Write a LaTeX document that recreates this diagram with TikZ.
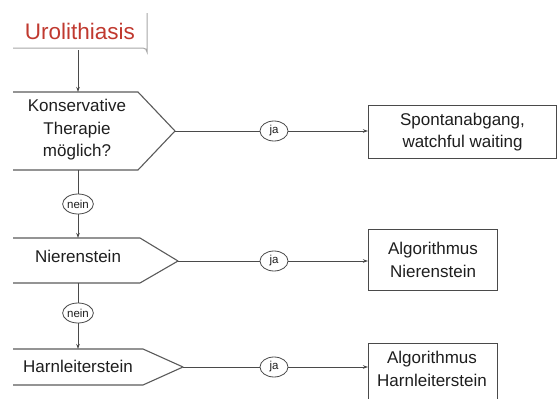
\documentclass[tikz,border=0pt]{standalone}
\usepackage{fontspec}
\setmainfont{Liberation Sans}
\usetikzlibrary{arrows.meta,shapes.geometric}
\definecolor{urored}{HTML}{C0392F}
\definecolor{txt}{HTML}{1E1E1E}
\definecolor{edge}{HTML}{4A4A4A}
\definecolor{hexc}{HTML}{5A5A5A}
\begin{document}
\begin{tikzpicture}[x=1pt,y=-1pt,
  lbl/.style={font=\fontsize{17}{22.5}\selectfont, text=txt, align=center, inner sep=0pt},
  hexline/.style={draw=hexc, line width=1.1pt, line join=round},
  resbox/.style={draw=edge, line width=1pt, fill=white},
  conn/.style={draw=edge, line width=0.9pt},
  arr/.style={conn, -{Stealth[length=5pt,width=3.5pt]}},
  tag/.style={ellipse, draw=edge, line width=0.8pt, fill=white, inner sep=0pt,
    minimum width=28pt, minimum height=20pt, font=\fontsize{11.5}{13}\selectfont, text=txt}
]
\useasboundingbox (0,0) rectangle (558,399);

% title box
\draw[draw=black!35, line width=1pt] (13,48) -- (143,48) arc[start angle=-90,end angle=0,radius=4] -- (147,13);
\node[font=\fontsize{22.5}{26}\selectfont, text=urored, inner sep=0pt] (uro) at (80,31) {Urolithiasis};
\coordinate (urob) at (78,50);

% hexagon 1
\draw[hexline] (13,92) -- (138,92) -- (175,131) -- (138,170) -- (13,170);
\coordinate (h1t) at (78,92);
\coordinate (h1b) at (78,170);
\coordinate (h1r) at (175,131);
\node[lbl] (k) at (77,130) {Konservative\\Therapie\\möglich?};

% hexagon 2
\draw[hexline] (13,238) -- (140,238) -- (178,261) -- (140,283) -- (13,283);
\coordinate (h2t) at (78,238);
\coordinate (h2b) at (78,283);
\coordinate (h2r) at (178,261);
\node[lbl] (n) at (78,256) {Nierenstein};

% hexagon 3
\draw[hexline] (13,349) -- (143,349) -- (183,367) -- (143,385) -- (13,385);
\coordinate (h3t) at (78,349);
\coordinate (h3r) at (183,367);
\node[lbl] (h) at (78,366) {Harnleiterstein};

% result boxes
\node[resbox, lbl, draw, minimum width=188pt, minimum height=53pt, anchor=north west] (r1) at (368,105) {Spontanabgang,\\watchful waiting};
\node[resbox, lbl, draw, minimum width=129pt, minimum height=61pt, anchor=north west, inner sep=0pt] (r2) at (368,229) {Algorithmus\\Nierenstein};
\draw[resbox] (368,405) -- (368,343) -- (497,343) -- (497,405);
\node[lbl] (r3) at (432,369) {Algorithmus\\Harnleiterstein};
\coordinate (r3l) at (368,367);

% tags
\node[tag] (ja1) at (274,131) {ja};
\node[tag] (ja2) at (274,261) {ja};
\node[tag] (ja3) at (274,367) {ja};
\node[tag] (nein1) at (78,204) {nein};
\node[tag] (nein2) at (78,313) {nein};

% connectors
\draw[arr] (urob) -- (h1t);
\draw[conn] (h1r) -- (ja1);
\draw[arr] (ja1) -- (ja1 -| r1.west);
\draw[conn] (h1b) -- (nein1);
\draw[arr] (nein1) -- (h2t);
\draw[conn] (h2r) -- (ja2);
\draw[arr] (ja2) -- (ja2 -| r2.west);
\draw[conn] (h2b) -- (nein2);
\draw[arr] (nein2) -- (h3t);
\draw[conn] (h3r) -- (ja3);
\draw[arr] (ja3) -- (r3l);
\end{tikzpicture}
\end{document}
